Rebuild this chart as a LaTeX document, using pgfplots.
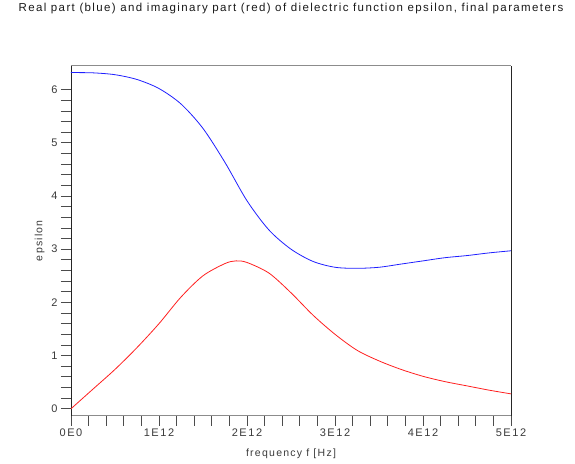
\documentclass[border=0pt]{standalone}
\usepackage{fontspec}
\setmainfont{Liberation Sans}
\newfontfamily\titlefont{Liberation Sans}[LetterSpace=12]
\newfontfamily\tickfont{Liberation Sans}[LetterSpace=14]
\newfontfamily\labfont{Liberation Sans}[LetterSpace=12]
\usepackage{pgfplots}
\pgfplotsset{compat=1.18}
\definecolor{realc}{HTML}{1F1FFF}
\definecolor{imagc}{HTML}{FF1F1F}
\definecolor{txt}{HTML}{3A3A3A}

\begin{document}
\begin{tikzpicture}
\begin{axis}[
  scale only axis,width=440pt,height=350pt,
  xmin=0,xmax=5,ymin=-0.13,ymax=6.45,
  xtick={0,1,2,3,4,5},
  xticklabels={0E0,1E12,2E12,3E12,4E12,5E12},
  ytick={0,1,2,3,4,5,6},
  minor x tick num=4,minor y tick num=4,
  tick pos=left,tick align=outside,
  major tick length=10pt,minor tick length=10pt,
  every tick/.style={black!70,line width=0.7pt},
  separate axis lines,
  x axis line style={black!45,line width=0.9pt},
  y axis line style={black!85,line width=0.8pt},
  /pgf/number format/assume math mode=true,
  tick label style={font=\fontsize{11}{13}\tickfont,text=txt},
  xlabel={frequency f [Hz]},
  ylabel={epsilon},
  label style={font=\fontsize{10.5}{12}\labfont,text=txt},
  xlabel style={at={(0.5,0)},anchor=base,yshift=-41pt},
  ylabel style={at={(0,0.5)},anchor=base,yshift=28.5pt},
  title={Real part (blue) and imaginary part (red) of dielectric function epsilon, final parameters},
  title style={at={(0.5,1)},anchor=base,yshift=48pt,font=\fontsize{11.5}{13}\titlefont,text=black!90},
]
\addplot[realc,line width=0.8pt,smooth,tension=0.5] coordinates {
(0,6.32) (0.25,6.315) (0.5,6.28) (0.75,6.19) (1.0,6.02) (1.25,5.73)
(1.5,5.27) (1.75,4.63) (2.0,3.91) (2.25,3.36) (2.5,3.00) (2.75,2.77)
(3.0,2.66) (3.25,2.64) (3.5,2.66) (3.75,2.72) (4.0,2.78) (4.25,2.84)
(4.5,2.88) (4.75,2.93) (5.0,2.97)};
\addplot[imagc,line width=0.8pt,smooth,tension=0.5] coordinates {
(0,0.0) (0.25,0.37) (0.5,0.74) (0.75,1.15) (1.0,1.60) (1.25,2.10)
(1.5,2.50) (1.75,2.73) (1.875,2.78) (2.0,2.75) (2.25,2.55) (2.5,2.18)
(2.75,1.76) (3.0,1.40) (3.25,1.10) (3.5,0.90) (3.75,0.74) (4.0,0.61)
(4.25,0.51) (4.5,0.43) (4.75,0.35) (5.0,0.28)};
\end{axis}
\path (current axis.south west) ++(-71pt,-48pt) rectangle ++(575pt,463pt);
\end{tikzpicture}
\end{document}
